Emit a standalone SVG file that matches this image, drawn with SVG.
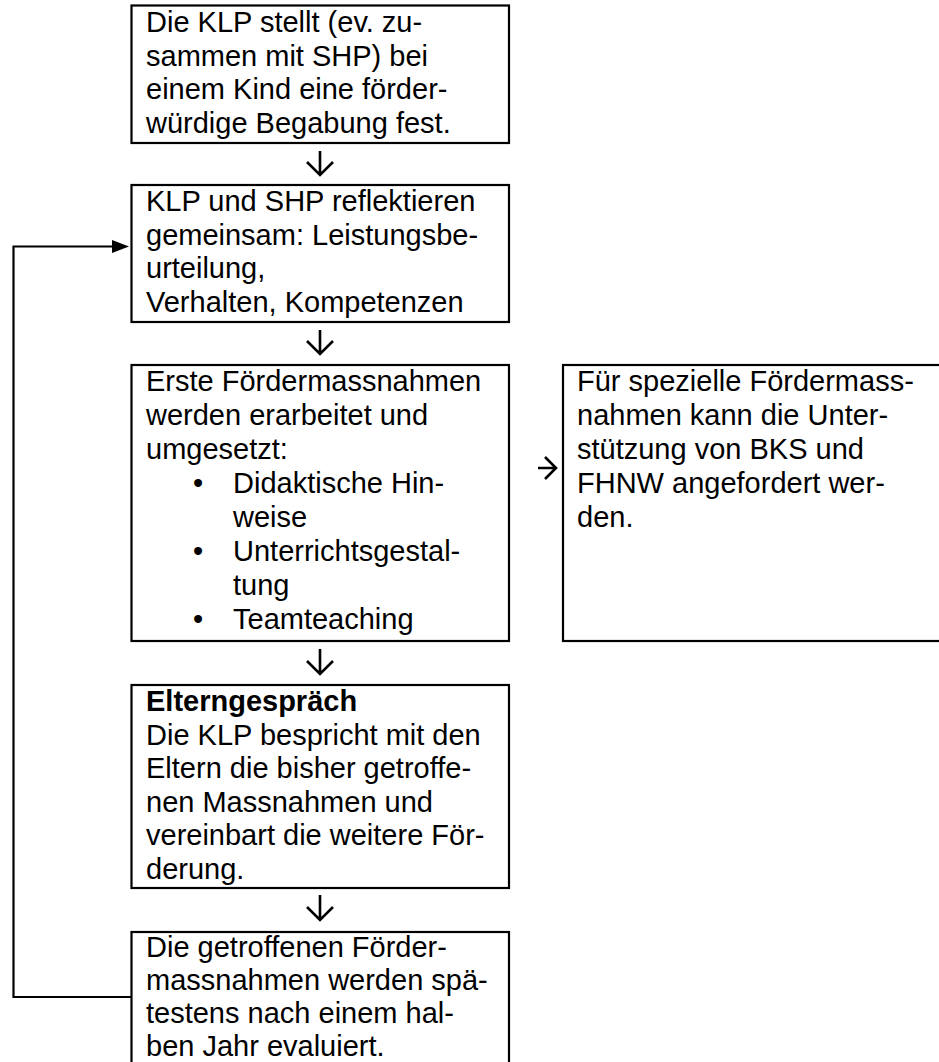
<svg xmlns="http://www.w3.org/2000/svg" width="939" height="1062" viewBox="0 0 939 1062">
<defs>
<style>
.box{fill:#fff;stroke:#000;stroke-width:2.2}
.t{font-family:"Liberation Sans",Arial,sans-serif;font-size:29px;fill:#000}
.b{font-weight:bold}
.con{fill:none;stroke:#000;stroke-width:2.2}
.arr{fill:none;stroke:#000;stroke-width:2.6;stroke-linejoin:miter}
</style>
</defs>
<rect width="939" height="1062" fill="#fff"/>
<g id="connectors">
<path class="con" d="M131,997 H13.5 V246.5 H114"/>
<polygon points="129,246.5 112,240 112,253" fill="#000"/>
<path class="arr" d="M320,151 V175 M307,162 L320,175 L333,162"/>
<path class="arr" d="M320,330 V354 M307,341 L320,354 L333,341"/>
<path class="arr" d="M320,649 V674 M307,661 L320,674 L333,661"/>
<path class="arr" d="M320,895 V920 M307,907 L320,920 L333,907"/>
<path class="arr" d="M538,468 H556 M545,457 L556,468 L545,479"/>
</g>
<g id="node1">
<rect class="box" x="131.5" y="5.5" width="377.5" height="137.5"/>
<text class="t"><tspan x="146" y="32">Die KLP stellt (ev. zu-</tspan><tspan x="146" y="65.5">sammen mit SHP) bei</tspan><tspan x="146" y="99">einem Kind eine förder-</tspan><tspan x="146" y="132.5">würdige Begabung fest.</tspan></text>
</g>
<g id="node2">
<rect class="box" x="131.5" y="185" width="377.5" height="137"/>
<text class="t"><tspan x="146" y="211">KLP und SHP reflektieren</tspan><tspan x="146" y="244.5">gemeinsam: Leistungsbe-</tspan><tspan x="146" y="278">urteilung,</tspan><tspan x="146" y="311.5">Verhalten, Kompetenzen</tspan></text>
</g>
<g id="node3">
<rect class="box" x="131.5" y="365" width="377.5" height="276"/>
<text class="t"><tspan x="146" y="391">Erste Fördermassnahmen</tspan><tspan x="146" y="425">werden erarbeitet und</tspan><tspan x="146" y="459">umgesetzt:</tspan><tspan x="193" y="493">•</tspan><tspan x="233" y="493">Didaktische Hin-</tspan><tspan x="233" y="527">weise</tspan><tspan x="193" y="561">•</tspan><tspan x="233" y="561">Unterrichtsgestal-</tspan><tspan x="233" y="595">tung</tspan><tspan x="193" y="629">•</tspan><tspan x="233" y="629">Teamteaching</tspan></text>
</g>
<g id="node4">
<rect class="box" x="563" y="365" width="385" height="276"/>
<text class="t"><tspan x="577" y="391">Für spezielle Fördermass-</tspan><tspan x="577" y="425">nahmen kann die Unter-</tspan><tspan x="577" y="459">stützung von BKS und</tspan><tspan x="577" y="493">FHNW angefordert wer-</tspan><tspan x="577" y="527">den.</tspan></text>
</g>
<g id="node5">
<rect class="box" x="131.5" y="685" width="377.5" height="203"/>
<text class="t"><tspan class="b" x="146" y="711">Elterngespräch</tspan><tspan x="146" y="744.5">Die KLP bespricht mit den</tspan><tspan x="146" y="778">Eltern die bisher getroffe-</tspan><tspan x="146" y="811.5">nen Massnahmen und</tspan><tspan x="146" y="845">vereinbart die weitere För-</tspan><tspan x="146" y="878.5">derung.</tspan></text>
</g>
<g id="node6">
<rect class="box" x="131.5" y="932" width="377.5" height="140"/>
<text class="t"><tspan x="146" y="957">Die getroffenen Förder-</tspan><tspan x="146" y="990">massnahmen werden spä-</tspan><tspan x="146" y="1023">testens nach einem hal-</tspan><tspan x="146" y="1056">ben Jahr evaluiert.</tspan></text>
</g>
</svg>
